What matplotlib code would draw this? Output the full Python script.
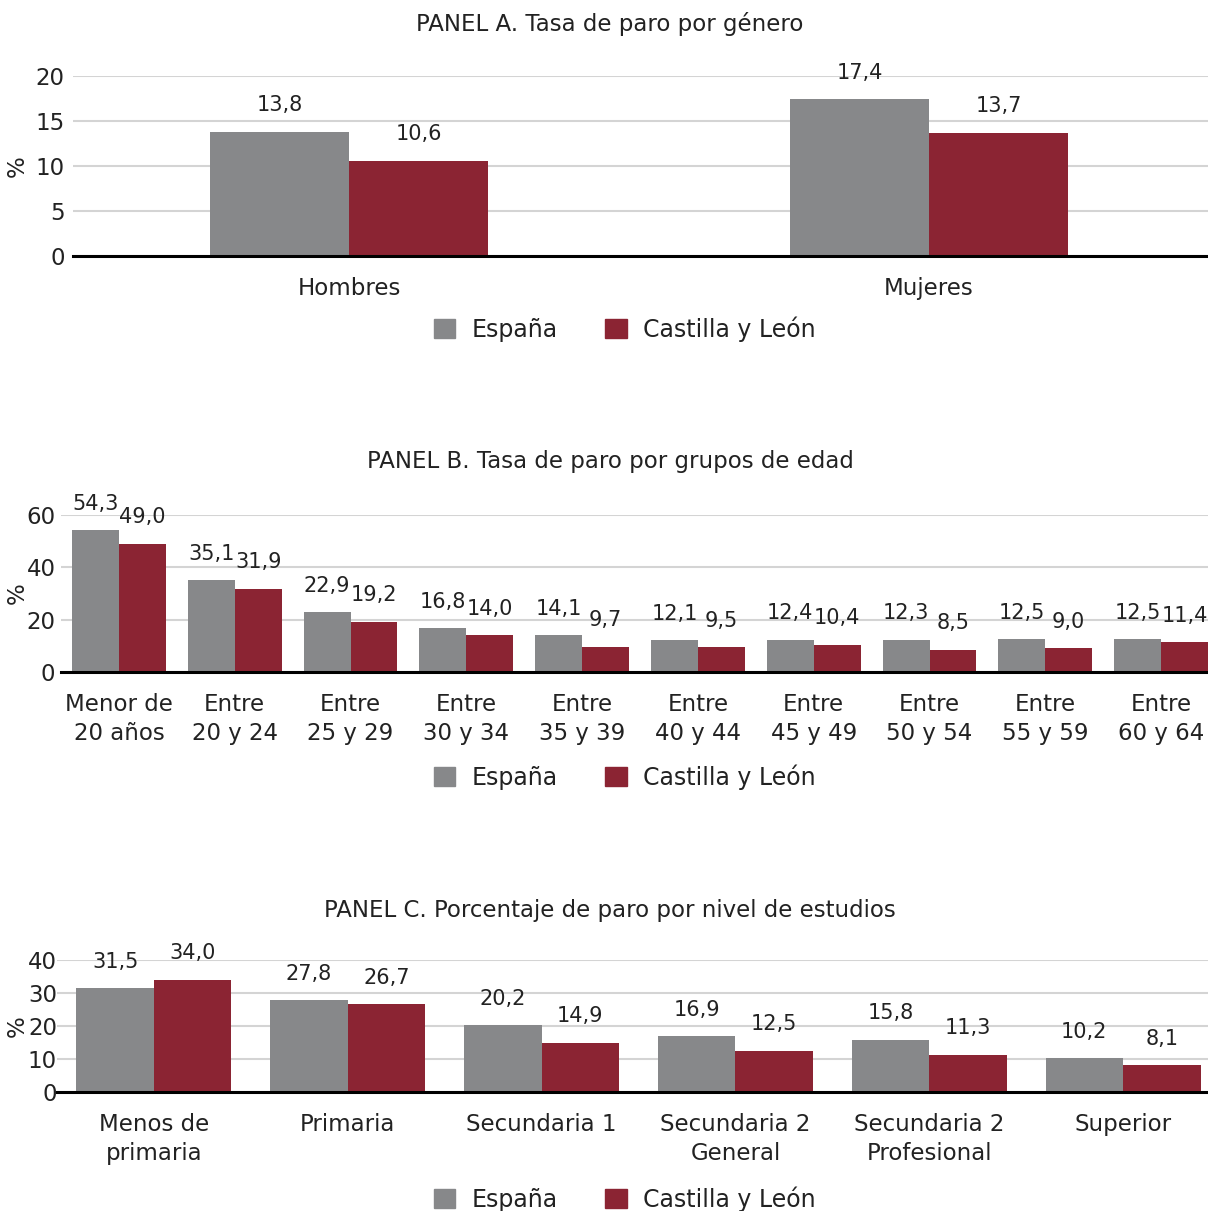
import numpy as np
import matplotlib
matplotlib.use("Agg")
import matplotlib.pyplot as plt
from matplotlib.patches import Patch

plt.rcParams["font.family"] = ["DejaVu Sans"]

# Datos
series = ["España", "Castilla y León"]
colores = ["#87888a", "#8b2433"]

genero = ["Hombres", "Mujeres"]
genero_esp = [13.8, 17.4]
genero_cyl = [10.6, 13.7]

edad = ["Menor de\n20 años", "Entre\n20 y 24", "Entre\n25 y 29", "Entre\n30 y 34",
        "Entre\n35 y 39", "Entre\n40 y 44", "Entre\n45 y 49", "Entre\n50 y 54",
        "Entre\n55 y 59", "Entre\n60 y 64"]
edad_esp = [54.3, 35.1, 22.9, 16.8, 14.1, 12.1, 12.4, 12.3, 12.5, 12.5]
edad_cyl = [49.0, 31.9, 19.2, 14.0, 9.7, 9.5, 10.4, 8.5, 9.0, 11.4]

estudios = ["Menos de\nprimaria", "Primaria", "Secundaria 1", "Secundaria 2\nGeneral",
            "Secundaria 2\nProfesional", "Superior"]
estudios_esp = [31.5, 27.8, 20.2, 16.9, 15.8, 10.2]
estudios_cyl = [34.0, 26.7, 14.9, 12.5, 11.3, 8.1]

W, H = 1208, 1211
fig = plt.figure(figsize=(W / 100, H / 100), dpi=100)
texto = "#222222"


def panel(top, bottom, left_px, right_px, xlim, cats, esp, cyl, yticks, width, ypad,
          titulo, y_titulo, y_leyenda):
    ax = fig.add_axes([left_px / W, 1 - bottom / H, (right_px - left_px) / W, (bottom - top) / H])
    x = np.arange(len(cats))
    b1 = ax.bar(x - width / 2, esp, width, color=colores[0], zorder=3)
    b2 = ax.bar(x + width / 2, cyl, width, color=colores[1], zorder=3)
    for bars in (b1, b2):
        for r in bars:
            v = r.get_height()
            ax.annotate(f"{v:.1f}".replace(".", ","), (r.get_x() + r.get_width() / 2, v),
                        xytext=(0, 19), textcoords="offset points", ha="center", va="center",
                        fontsize=15, color=texto, annotation_clip=False)
    ax.set_xlim(*xlim)
    ax.set_ylim(0, yticks[-1])
    ax.set_yticks(yticks)
    ax.set_xticks(x)
    ax.set_xticklabels(cats, linespacing=1.35)
    ax.tick_params(axis="both", length=0, labelsize=16.5, labelcolor=texto)
    ax.tick_params(axis="x", pad=15)
    ax.tick_params(axis="y", pad=ypad)
    ax.grid(axis="y", color="#d4d4d4", linewidth=1.5, zorder=0)
    for s in ["top", "right", "left"]:
        ax.spines[s].set_visible(False)
    ax.spines["bottom"].set_linewidth(2.2)
    ax.spines["bottom"].set_color("black")
    ax.spines["bottom"].set_zorder(4)
    ax.set_ylabel("%", fontsize=16.5, color=texto)
    ax.yaxis.set_label_coords((29 - left_px) / (right_px - left_px), 0.5)
    fig.text(610 / W, 1 - y_titulo / H, titulo, ha="center", va="center", fontsize=16.5, color=texto)
    handles = [Patch(color=c) for c in colores]
    fig.legend(handles, series, loc="center", bbox_to_anchor=(625 / W, 1 - y_leyenda / H),
               ncol=2, frameon=False, fontsize=17, handlelength=0.9, handleheight=0.9,
               columnspacing=2.0, handletextpad=0.7, labelcolor=texto)
    return ax


panel(76, 256, 73, 1219, (-0.476, 1.5), genero, genero_esp, genero_cyl,
      [0, 5, 10, 15, 20], 0.24, 6,
      "PANEL A. Tasa de paro por género", 24, 329)
panel(515, 672, 61, 1219, (-0.5, 9.5), edad, edad_esp, edad_cyl,
      [0, 20, 40, 60], 0.405, 4,
      "PANEL B. Tasa de paro por grupos de edad", 462, 777)
panel(960, 1092, 57, 1220, (-0.5, 5.5), estudios, estudios_esp, estudios_cyl,
      [0, 10, 20, 30, 40], 0.40, 0,
      "PANEL C. Porcentaje de paro por nivel de estudios", 910, 1199)

fig.savefig("out.png", dpi=100)
